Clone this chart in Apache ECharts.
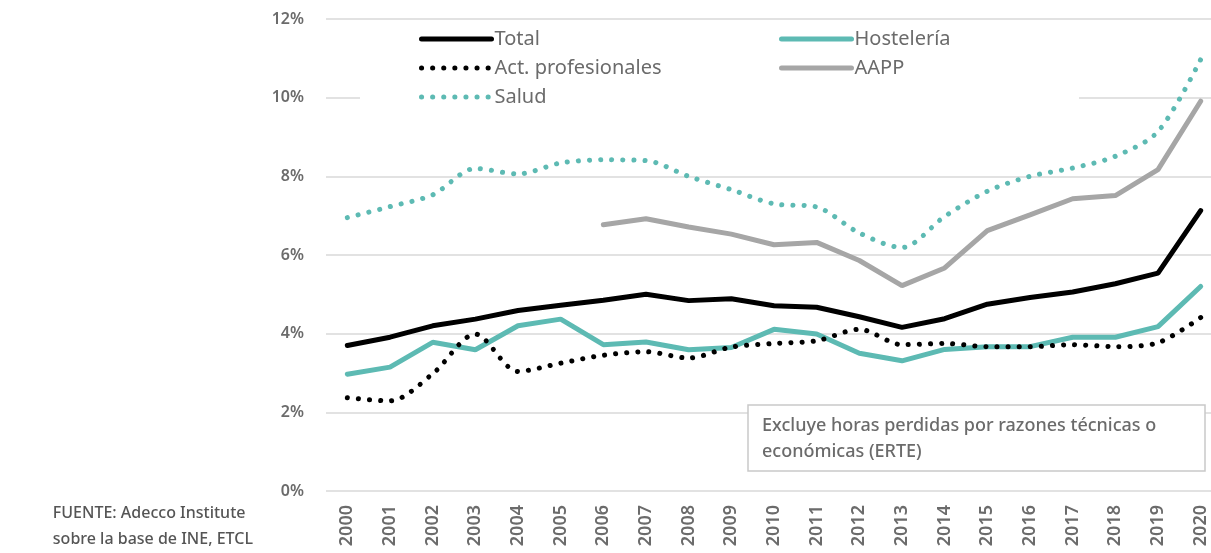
<!DOCTYPE html>
<html lang="es">
<head>
  <meta charset="UTF-8">
  <title>Absentismo</title>
  <style>
    html, body{margin: 0; padding: 0; background: #fff; overflow: hidden}
    /* the plot runs a little past the right edge of the window, as in the original */
    #chart{width: 1222px; height: 553px}
  </style>
  <script src="https://cdn.jsdelivr.net/npm/echarts@6/dist/echarts.min.js"></script>
</head>
<body>
  <div id="chart"></div>
  <script>
    const years = ['2000','2001','2002','2003','2004','2005','2006','2007','2008','2009','2010',
                   '2011','2012','2013','2014','2015','2016','2017','2018','2019','2020'];
    const total = [3.70,3.91,4.20,4.37,4.59,4.72,4.85,5.00,4.84,4.89,4.71,4.67,4.43,4.16,4.38,4.75,4.92,5.06,5.27,5.54,7.13];
    const hosteleria = [2.97,3.15,3.78,3.59,4.20,4.37,3.72,3.79,3.59,3.65,4.11,3.99,3.50,3.31,3.60,3.67,3.67,3.91,3.91,4.18,5.20];
    const actProf = [2.37,2.29,2.98,3.99,3.04,3.25,3.45,3.54,3.38,3.66,3.75,3.82,4.11,3.72,3.75,3.67,3.67,3.72,3.67,3.77,4.41];
    const aapp = [null,null,null,null,null,null,6.77,6.92,6.71,6.53,6.26,6.32,5.86,5.22,5.67,6.62,7.02,7.43,7.51,8.17,9.91];
    const salud = [6.95,7.23,7.53,8.20,8.06,8.34,8.42,8.40,8.00,7.66,7.30,7.22,6.56,6.19,6.98,7.62,8.00,8.21,8.51,9.14,10.97];

    const teal = '#5dbab3';
    const grey = '#a6a6a6';
    const txt = '#6b6b6b';
    const font = 'Noto Sans';

    const chart = echarts.init(document.getElementById('chart'));

    function legendBox(left, names){
      return {
        orient: 'vertical', left: left, top: 24,
        itemWidth: 70, itemHeight: 14, itemGap: 9,
        data: names,
        itemStyle: {opacity: 0},
        lineStyle: {width: 5},
        textStyle: {fontFamily: font, fontSize: 20, color: txt, padding: [0, 0, 0, -2]}
      };
    }

    const option = {
      animation: false,
      textStyle: {fontFamily: font},
      grid: {left: 326, top: 19, right: 0, height: 472},
      legend: [
        legendBox(414, ['Total', 'Act. profesionales', 'Salud']),
        legendBox(774, ['Hostelería', 'AAPP'])
      ],
      xAxis: {
        type: 'category',
        data: years,
        boundaryGap: true,
        axisLine: {show: false},
        axisTick: {show: false},
        axisLabel: {rotate: 90, margin: 14, fontSize: 18, color: txt, fontFamily: font, fontWeight: 600}
      },
      yAxis: {
        type: 'value',
        min: 0, max: 12, interval: 2,
        axisLine: {show: false},
        axisTick: {show: false},
        axisLabel: {formatter: '{value}%', margin: 22, fontSize: 16, color: txt, fontFamily: font, fontWeight: 600},
        splitLine: {lineStyle: {color: '#d9d9d9', width: 1.5}}
      },
      graphic: [
        // white backing behind the legend (hides the 10% grid line there)
        {type: 'rect', z: 1, shape: {x: 360, y: 25, width: 719, height: 86}, style: {fill: '#fff'}},
        // note box
        {type: 'rect', z: 1, shape: {x: 748, y: 405, width: 457, height: 66},
          style: {fill: '#fff', stroke: '#c9c9c9', lineWidth: 1.5}},
        {type: 'text', z: 5, left: 762, top: 413,
          style: {text: 'Excluye horas perdidas por razones técnicas o\neconómicas (ERTE)', fill: txt,
            font: '500 18px "Noto Sans"', lineHeight: 26}},
        // source
        {type: 'text', z: 5, right: 969, top: 500,
          style: {text: 'FUENTE: Adecco Institute\nsobre la base de INE, ETCL', fill: '#555',
            font: '500 16px "Noto Sans"', lineHeight: 26, align: 'right'}}
      ],
      series: [
        {name: 'Total', type: 'line', data: total, symbol: 'none',
          lineStyle: {color: '#000', width: 5, cap: 'round'}, itemStyle: {color: '#000'}},
        {name: 'Hostelería', type: 'line', data: hosteleria, symbol: 'none',
          lineStyle: {color: teal, width: 5, cap: 'round'}, itemStyle: {color: teal}},
        {name: 'Act. profesionales', type: 'line', data: actProf, symbol: 'none', smooth: 0.3,
          lineStyle: {color: '#000', width: 5, type: [0.1, 11], cap: 'round'}, itemStyle: {color: '#000'}},
        {name: 'AAPP', type: 'line', data: aapp, symbol: 'none',
          lineStyle: {color: grey, width: 5, cap: 'round'}, itemStyle: {color: grey}},
        {name: 'Salud', type: 'line', data: salud, symbol: 'none', smooth: 0.3,
          lineStyle: {color: teal, width: 5, type: [0.1, 11], cap: 'round'}, itemStyle: {color: teal}}
      ]
    };

    chart.setOption(option);
  </script>
</body>
</html>
